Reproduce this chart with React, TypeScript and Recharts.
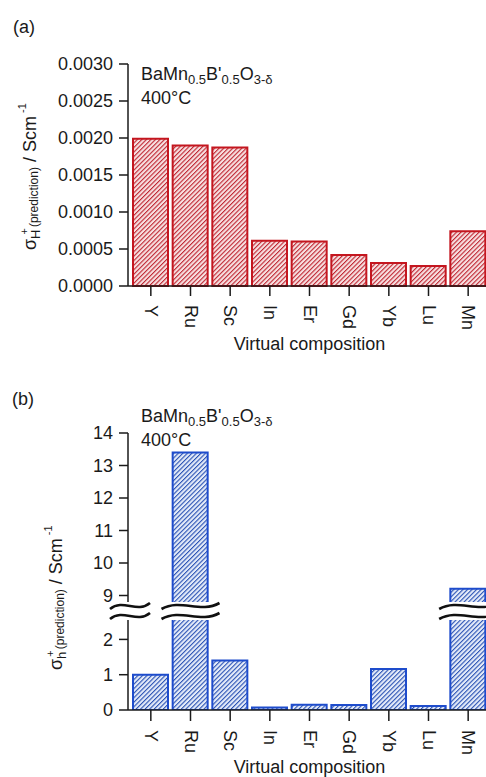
import React from "react";
import { BarChart, Bar, XAxis, YAxis } from "recharts";

const CATEGORIES = ["Y", "Ru", "Sc", "In", "Er", "Gd", "Yb", "Lu", "Mn"];
// (a) proton conductivity prediction, S/cm
const PROTON_VALUES = [0.00199, 0.0019, 0.00187, 0.00061, 0.0006, 0.00042, 0.00031, 0.00027, 0.00074];
// (b) hole conductivity prediction, S/cm
const HOLE_VALUES = [1.0, 13.4, 1.4, 0.07, 0.15, 0.14, 1.16, 0.11, 9.21];

const PROTON_TICKS = [0, 0.0005, 0.001, 0.0015, 0.002, 0.0025, 0.003];
const HOLE_LOW_TICKS = [0, 1, 2];
const HOLE_HIGH_TICKS = [9, 10, 11, 12, 13, 14];
const BREAK_LOW = 2.55;
const BREAK_HIGH = 8.8;

const RED = "#c4161f";
const BLUE = "#1e4ccc";
const INK = "#1a1a1a";
const FONT = "'Liberation Sans', Arial, sans-serif";

const Y_AXIS_W = 128;
const CHART_W = 488;
const PAD_LEFT = 3;

const rows = CATEGORIES.map((name, i) => ({
  name,
  proton: PROTON_VALUES[i],
  hole: HOLE_VALUES[i],
  holeHigh: HOLE_VALUES[i] >= BREAK_HIGH ? HOLE_VALUES[i] : null,
}));

function RotatedTick({ x, y, payload }: any) {
  return (
    <text
      transform={`translate(${x},${y}) rotate(90)`}
      textAnchor="start"
      dominantBaseline="central"
      fontSize={18}
      fontFamily={FONT}
      fill={INK}
    >
      {payload.value}
    </text>
  );
}

// upper part of a broken bar: no bottom edge
function OpenBottomBar(props: any) {
  const { x, y, width, height } = props;
  if (!height || height <= 0) return null;
  return (
    <g>
      <rect x={x} y={y} width={width} height={height} fill="url(#hatchBlue)" />
      <path
        d={`M${x},${y + height} L${x},${y} L${x + width},${y} L${x + width},${y + height}`}
        fill="none"
        stroke={BLUE}
        strokeWidth={2}
      />
    </g>
  );
}

function YLabel({ x, y, letter }: { x: number; y: number; letter: string }) {
  return (
    <text transform={`translate(${x},${y}) rotate(-90)`} fontFamily={FONT} fill={INK} fontSize={18}>
      σ
      <tspan fontSize={13} dy={4}>{letter}</tspan>
      <tspan fontSize={11} dy={-12} dx={-5}>+</tspan>
      <tspan fontSize={12} dy={10} dx={1}>(prediction)</tspan>
      <tspan fontSize={18} dy={-2}> / Scm</tspan>
      <tspan fontSize={11} dy={-10} dx={3}>-1</tspan>
    </text>
  );
}

function Formula({ x, y }: { x: number; y: number }) {
  return (
    <g fontFamily={FONT} fill={INK}>
      <text x={x} y={y} fontSize={18}>
        BaMn
        <tspan fontSize={13} dy={4}>0.5</tspan>
        <tspan fontSize={18} dy={-4}>B'</tspan>
        <tspan fontSize={13} dy={4}>0.5</tspan>
        <tspan fontSize={18} dy={-4}>O</tspan>
        <tspan fontSize={13} dy={4}>3-δ</tspan>
      </text>
      <text x={x} y={y + 24} fontSize={18}>400°C</text>
    </g>
  );
}

function wavePath(x0: number, x1: number, y: number) {
  const w = x1 - x0;
  return `M${x0},${y + 3} C${x0 + w / 3},${y - 8} ${x1 - w / 3},${y + 8} ${x1},${y - 3}`;
}

function BreakMark({ cx, cy, w }: { cx: number; cy: number; w: number }) {
  const x0 = cx - w / 2;
  const x1 = cx + w / 2;
  const top = wavePath(x0, x1, cy - 5);
  const bottom = wavePath(x0, x1, cy + 5);
  const fillD = `${top} L${x1},${cy + 2} C${x1 - w / 3},${cy + 13} ${x0 + w / 3},${cy - 3} ${x0},${cy + 8} Z`;
  return (
    <g>
      <path d={fillD} fill="#fff" stroke="none" />
      <path d={top} fill="none" stroke="#111" strokeWidth={2.6} />
      <path d={bottom} fill="none" stroke="#111" strokeWidth={2.6} />
    </g>
  );
}

const axisProps = {
  stroke: INK,
  strokeWidth: 1.5,
  tick: { fill: INK, fontSize: 18, fontFamily: FONT },
  tickLine: { stroke: INK, strokeWidth: 1.5 },
};

export default function App() {
  const band = (CHART_W - Y_AXIS_W - PAD_LEFT) / CATEGORIES.length;
  const bandCenter = (i: number) => Y_AXIS_W + PAD_LEFT + band * (i + 0.5);
  const breakY = 611;

  return (
    <div
      style={{
        position: "absolute",
        left: 0,
        top: 0,
        width: 486,
        height: 777,
        overflow: "hidden",
        background: "#fff",
        fontFamily: FONT,
      }}
    >
      <svg width={0} height={0} style={{ position: "absolute" }}>
        <defs>
          <pattern id="hatchRed" patternUnits="userSpaceOnUse" width={3.2} height={3.2} patternTransform="rotate(45)">
            <rect width={3.2} height={3.2} fill="#f7e0e1" />
            <line x1={0} y1={0} x2={0} y2={3.2} stroke="#bf2632" strokeWidth={2.2} />
          </pattern>
          <pattern id="hatchBlue" patternUnits="userSpaceOnUse" width={3.2} height={3.2} patternTransform="rotate(45)">
            <rect width={3.2} height={3.2} fill="#e4ebf9" />
            <line x1={0} y1={0} x2={0} y2={3.2} stroke="#2a52b4" strokeWidth={2.2} />
          </pattern>
        </defs>
      </svg>

      {/* (a) */}
      <div style={{ position: "absolute", left: 0, top: 0 }}>
        <BarChart width={CHART_W} height={360} data={rows} margin={{ top: 64, right: 0, bottom: 0, left: 0 }}>
          <XAxis
            dataKey="name"
            {...axisProps}
            height={74}
            padding={{ left: PAD_LEFT, right: 0 }}
            tickSize={10}
            tickMargin={9}
            interval={0}
            tick={<RotatedTick />}
          />
          <YAxis
            {...axisProps}
            width={Y_AXIS_W}
            domain={[0, 0.003]}
            ticks={PROTON_TICKS}
            interval={0}
            tickSize={9}
            tickMargin={6}
            tickFormatter={(v: number) => v.toFixed(4)}
          />
          <Bar dataKey="proton" fill="url(#hatchRed)" stroke={RED} strokeWidth={2} barSize={35} isAnimationActive={false} />
        </BarChart>
      </div>

      {/* (b) upper segment */}
      <div style={{ position: "absolute", left: 0, top: 400 }}>
        <BarChart width={CHART_W} height={214} data={rows} margin={{ top: 33, right: 0, bottom: 12, left: 0 }}>
          <XAxis dataKey="name" hide padding={{ left: PAD_LEFT, right: 0 }} />
          <YAxis
            {...axisProps}
            width={Y_AXIS_W}
            domain={[BREAK_HIGH, 14]}
            ticks={HOLE_HIGH_TICKS}
            interval={0}
            allowDataOverflow
            tickSize={9}
            tickMargin={6}
          />
          <Bar dataKey="holeHigh" shape={<OpenBottomBar />} barSize={35} isAnimationActive={false} />
        </BarChart>
      </div>

      {/* (b) lower segment */}
      <div style={{ position: "absolute", left: 0, top: 600 }}>
        <BarChart width={CHART_W} height={180} data={rows} margin={{ top: 20, right: 0, bottom: 0, left: 0 }}>
          <XAxis
            dataKey="name"
            {...axisProps}
            height={70}
            padding={{ left: PAD_LEFT, right: 0 }}
            tickSize={11}
            tickMargin={9}
            interval={0}
            tick={<RotatedTick />}
          />
          <YAxis
            {...axisProps}
            width={Y_AXIS_W}
            domain={[0, BREAK_LOW]}
            ticks={HOLE_LOW_TICKS}
            interval={0}
            allowDataOverflow
            tickSize={9}
            tickMargin={6}
          />
          <Bar dataKey="hole" fill="url(#hatchBlue)" stroke={BLUE} strokeWidth={2} barSize={35} isAnimationActive={false} />
        </BarChart>
      </div>

      <svg width={486} height={777} style={{ position: "absolute", left: 0, top: 0, pointerEvents: "none" }}>
        <g fontFamily={FONT} fill={INK} fontSize={18}>
          <text x={13} y={33}>(a)</text>
          <text x={12} y={405}>(b)</text>
          <text x={bandCenter(4)} y={350} textAnchor="middle">Virtual composition</text>
          <text x={bandCenter(4)} y={773} textAnchor="middle">Virtual composition</text>
        </g>
        <YLabel x={36} y={250} letter="H" />
        <YLabel x={62} y={670} letter="h" />
        <Formula x={141} y={80} />
        <Formula x={141} y={422} />
        <BreakMark cx={Y_AXIS_W + 2} cy={breakY} w={40} />
        {HOLE_VALUES.map((v, i) =>
          v >= BREAK_HIGH ? <BreakMark key={i} cx={bandCenter(i)} cy={breakY} w={58} /> : null
        )}
      </svg>
    </div>
  );
}
